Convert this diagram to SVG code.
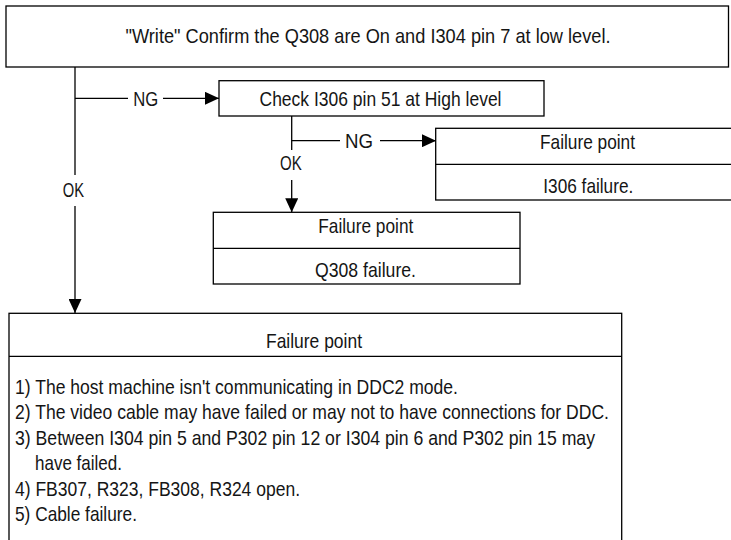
<svg xmlns="http://www.w3.org/2000/svg" width="731" height="540" viewBox="0 0 731 540">
  <style>
    .box { fill: #ffffff; stroke: #000000; stroke-width: 1.3; }
    .sep { stroke: #000000; stroke-width: 1.3; fill: none; }
    .wire { stroke: #000000; stroke-width: 1.3; fill: none; }
    text { font-family: "Liberation Sans Narrow", "Arial Narrow", "Liberation Sans", Arial, sans-serif; font-size: 21px; fill: #151515; }
    .c { text-anchor: middle; }
  </style>
  <defs>
    <marker id="arrow" markerUnits="userSpaceOnUse" markerWidth="14" markerHeight="13" refX="14" refY="6.5" orient="auto" viewBox="0 0 14 13">
      <path d="M0,0 L14,6.5 L0,13 z" fill="#000000"/>
    </marker>
  </defs>

  <!-- connectors -->
  <g id="connectors">
    <path class="wire" d="M75 67 V175"/>
    <path class="wire" d="M75 206 V313" marker-end="url(#arrow)"/>
    <path class="wire" d="M75 98.3 H128"/>
    <path class="wire" d="M163 98.3 H219" marker-end="url(#arrow)"/>
    <path class="wire" d="M291.7 116 V150"/>
    <path class="wire" d="M291.7 180 V212.3" marker-end="url(#arrow)"/>
    <path class="wire" d="M291.7 140.7 H340"/>
    <path class="wire" d="M380 140.7 H436" marker-end="url(#arrow)"/>
    <text x="133.3" y="106" textLength="25" lengthAdjust="spacingAndGlyphs">NG</text>
    <text x="345" y="147.5" textLength="28" lengthAdjust="spacingAndGlyphs">NG</text>
    <text x="280" y="170" textLength="21.7" lengthAdjust="spacingAndGlyphs">OK</text>
    <text x="62.7" y="197" textLength="21.3" lengthAdjust="spacingAndGlyphs">OK</text>
  </g>

  <!-- start condition -->
  <g id="node-write">
    <rect class="box" x="6" y="6" width="722.5" height="61"/>
    <text class="c" x="368" y="43" textLength="485" lengthAdjust="spacingAndGlyphs">"Write" Confirm the Q308 are On and I304 pin 7 at low level.</text>
  </g>

  <!-- check I306 -->
  <g id="node-check">
    <rect class="box" x="219" y="80.7" width="325" height="35.3"/>
    <text class="c" x="380.5" y="106" textLength="242" lengthAdjust="spacingAndGlyphs">Check I306 pin 51 at High level</text>
  </g>

  <!-- I306 failure -->
  <g id="node-i306">
    <rect class="box" x="435.7" y="128.3" width="305" height="71.7"/>
    <line class="sep" x1="435.7" y1="164.3" x2="740.7" y2="164.3"/>
    <text class="c" x="587.5" y="149.3" textLength="95" lengthAdjust="spacingAndGlyphs">Failure point</text>
    <text class="c" x="588.3" y="193.3" textLength="90" lengthAdjust="spacingAndGlyphs">I306 failure.</text>
  </g>

  <!-- Q308 failure -->
  <g id="node-q308">
    <rect class="box" x="213.3" y="212.3" width="306.7" height="71.7"/>
    <line class="sep" x1="213.3" y1="248.3" x2="520" y2="248.3"/>
    <text class="c" x="365.8" y="233.3" textLength="95" lengthAdjust="spacingAndGlyphs">Failure point</text>
    <text class="c" x="365.5" y="277" textLength="101" lengthAdjust="spacingAndGlyphs">Q308 failure.</text>
  </g>

  <!-- DDC failure list -->
  <g id="node-ddc">
    <rect class="box" x="9" y="313.3" width="612.7" height="240"/>
    <line class="sep" x1="9" y1="356.3" x2="621.7" y2="356.3"/>
    <text class="c" x="314" y="348" textLength="96" lengthAdjust="spacingAndGlyphs">Failure point</text>
    <text x="15" y="393.5" textLength="443" lengthAdjust="spacingAndGlyphs">1) The host machine isn't communicating in DDC2 mode.</text>
    <text x="15" y="419" textLength="594" lengthAdjust="spacingAndGlyphs">2) The video cable may have failed or may not to have connections for DDC.</text>
    <text x="15" y="444.5" textLength="580" lengthAdjust="spacingAndGlyphs">3) Between I304 pin 5 and P302 pin 12 or I304 pin 6 and P302 pin 15 may</text>
    <text x="35" y="470" textLength="87" lengthAdjust="spacingAndGlyphs">have failed.</text>
    <text x="15" y="495.5" textLength="285" lengthAdjust="spacingAndGlyphs">4) FB307, R323, FB308, R324 open.</text>
    <text x="15" y="521" textLength="122" lengthAdjust="spacingAndGlyphs">5) Cable failure.</text>
  </g>
</svg>
